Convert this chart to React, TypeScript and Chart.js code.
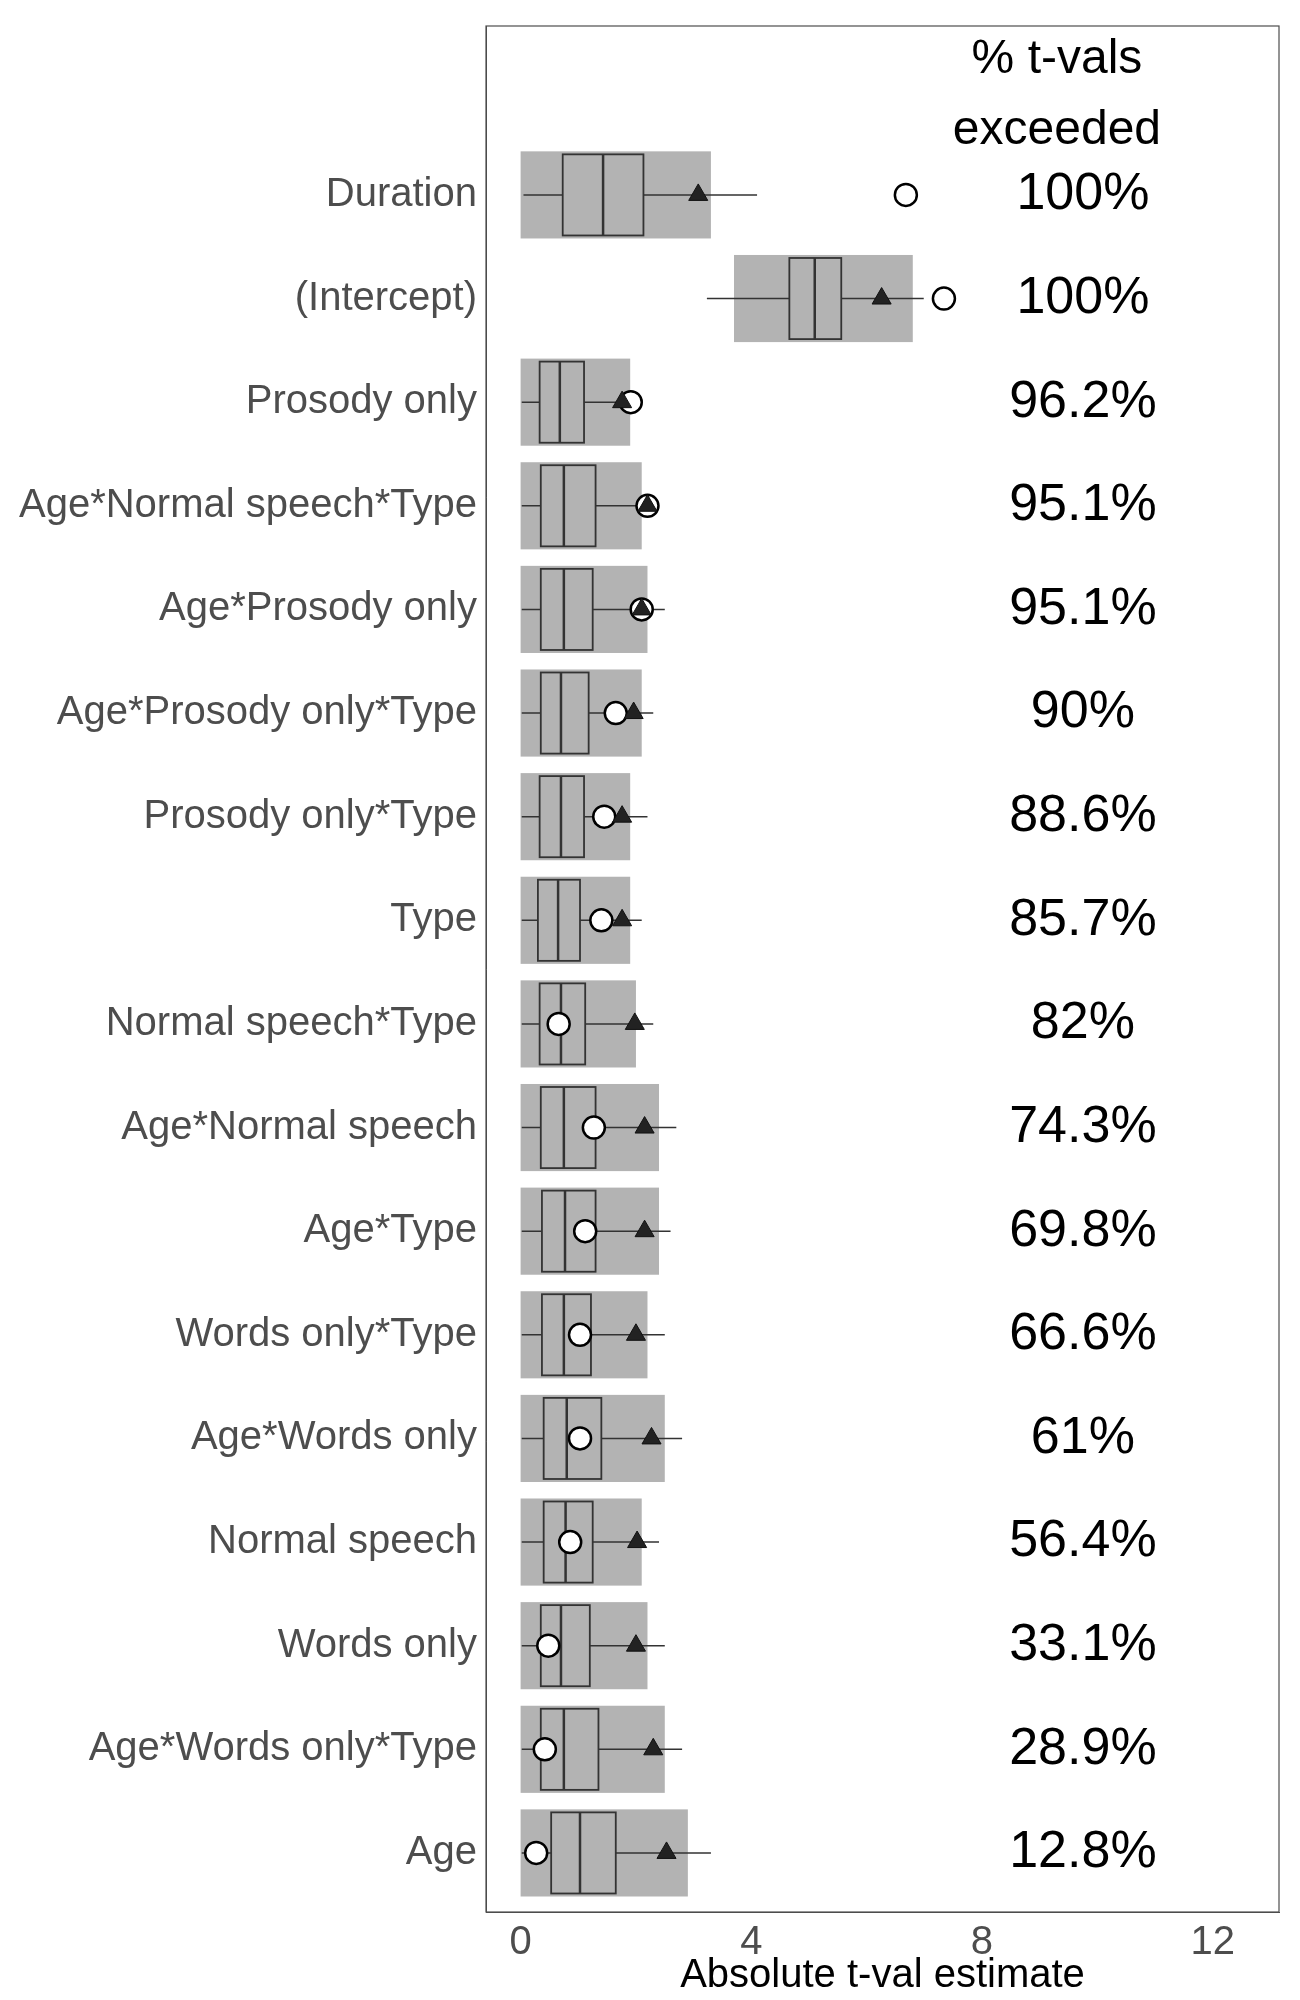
import React, { useEffect, useRef } from 'react';
import Chart from 'chart.js/auto';

// bottom to top
const terms = ['Age', 'Age*Words only*Type', 'Words only', 'Normal speech', 'Age*Words only', 'Words only*Type', 'Age*Type', 'Age*Normal speech', 'Normal speech*Type', 'Type', 'Prosody only*Type', 'Age*Prosody only*Type', 'Age*Prosody only', 'Age*Normal speech*Type', 'Prosody only', '(Intercept)', 'Duration'];
const pctExceeded = ['12.8%', '28.9%', '33.1%', '56.4%', '61%', '66.6%', '69.8%', '74.3%', '82%', '85.7%', '88.6%', '90%', '95.1%', '95.1%', '96.2%', '100%', '100%'];
const q1 = [0.53, 0.35, 0.35, 0.4, 0.4, 0.37, 0.37, 0.35, 0.33, 0.3, 0.33, 0.35, 0.35, 0.35, 0.33, 4.66, 0.73];
const median = [1.03, 0.75, 0.7, 0.78, 0.8, 0.75, 0.77, 0.75, 0.7, 0.65, 0.7, 0.7, 0.75, 0.75, 0.68, 5.1, 1.43];
const q3 = [1.65, 1.35, 1.2, 1.25, 1.4, 1.22, 1.3, 1.3, 1.12, 1.03, 1.1, 1.18, 1.25, 1.3, 1.1, 5.56, 2.13];
const whiskLo = [0.02, 0.02, 0.02, 0.02, 0.02, 0.02, 0.02, 0.02, 0.02, 0.02, 0.02, 0.02, 0.02, 0.02, 0.02, 3.23, 0.05];
const whiskHi = [3.3, 2.8, 2.5, 2.4, 2.8, 2.5, 2.6, 2.7, 2.3, 2.1, 2.2, 2.3, 2.5, 2.2, 2.0, 6.99, 4.1];
const cloudLo = [0, 0, 0, 0, 0, 0, 0, 0, 0, 0, 0, 0, 0, 0, 0, 3.7, 0];
const cloudHi = [2.9, 2.5, 2.2, 2.1, 2.5, 2.2, 2.4, 2.4, 2.0, 1.9, 1.9, 2.1, 2.2, 2.1, 1.9, 6.8, 3.3];
const meanT = [2.53, 2.3, 2.0, 2.02, 2.27, 2.0, 2.15, 2.15, 1.98, 1.76, 1.76, 1.96, 2.1, 2.2, 1.76, 6.26, 3.08];
const observedT = [0.27, 0.42, 0.48, 0.86, 1.03, 1.03, 1.12, 1.27, 0.66, 1.4, 1.45, 1.65, 2.1, 2.2, 1.91, 7.34, 6.68];
const xTicks = [0, 4, 8, 12];

const ROW_H = 104;
const FONT = '"Liberation Sans", Arial, sans-serif';

const boxPlugin = {
  id: 'boxes',
  beforeDatasetsDraw(chart: any) {
    const { ctx, scales } = chart;
    const x = scales.x, y = scales.y;
    ctx.save();
    terms.forEach((_, i) => {
      const cy = y.getPixelForValue(i);
      const hb = ROW_H * 0.39;
      ctx.fillStyle = '#b3b3b3';
      ctx.fillRect(x.getPixelForValue(cloudLo[i]), cy - hb - 3, x.getPixelForValue(cloudHi[i]) - x.getPixelForValue(cloudLo[i]), 2 * hb + 6);
      ctx.strokeStyle = '#333';
      ctx.lineWidth = 1.5;
      ctx.beginPath();
      ctx.moveTo(x.getPixelForValue(whiskLo[i]), cy);
      ctx.lineTo(x.getPixelForValue(q1[i]), cy);
      ctx.moveTo(x.getPixelForValue(q3[i]), cy);
      ctx.lineTo(x.getPixelForValue(whiskHi[i]), cy);
      ctx.stroke();
      ctx.lineWidth = 1.8;
      ctx.strokeRect(x.getPixelForValue(q1[i]), cy - hb, x.getPixelForValue(q3[i]) - x.getPixelForValue(q1[i]), 2 * hb);
      ctx.lineWidth = 2.5;
      ctx.beginPath();
      ctx.moveTo(x.getPixelForValue(median[i]), cy - hb);
      ctx.lineTo(x.getPixelForValue(median[i]), cy + hb);
      ctx.stroke();
    });
    ctx.restore();
  },
  afterDraw(chart: any) {
    const { ctx, scales, chartArea } = chart;
    const x = scales.x, y = scales.y;
    ctx.save();
    ctx.strokeStyle = '#4d4d4d';
    ctx.lineWidth = 1.2;
    ctx.strokeRect(chartArea.left, chartArea.top, chartArea.right - chartArea.left, chartArea.bottom - chartArea.top);
    ctx.fillStyle = '#000';
    ctx.textAlign = 'center';
    ctx.textBaseline = 'middle';
    ctx.font = `52px ${FONT}`;
    const tx = x.getPixelForValue(9.75);
    terms.forEach((_, i) => ctx.fillText(pctExceeded[i], tx, y.getPixelForValue(i)));
    ctx.font = `48px ${FONT}`;
    ctx.fillText('% t-vals', x.getPixelForValue(9.3), y.getPixelForValue(17.3));
    ctx.fillText('exceeded', x.getPixelForValue(9.3), y.getPixelForValue(16.62));
    ctx.restore();
  },
};

export default function App() {
  const ref = useRef<HTMLCanvasElement>(null);
  useEffect(() => {
    document.body.style.margin = '0';
    if (!ref.current) return;
    const chart = new Chart(ref.current, {
      type: 'scatter',
      data: {
        datasets: [
          {
            label: 'mean',
            data: meanT.map((v, i) => ({ x: v, y: i })),
            pointStyle: 'triangle',
            pointRadius: 11,
            backgroundColor: '#222',
            borderColor: '#111',
            borderWidth: 1,
          },
          {
            label: 'observed',
            data: observedT.map((v, i) => ({ x: v, y: i })),
            pointStyle: 'circle',
            pointRadius: 11,
            backgroundColor: '#fff',
            borderColor: '#000',
            borderWidth: 2.5,
          },
        ],
      },
      options: {
        animation: false,
        responsive: true,
        maintainAspectRatio: false,
        layout: { padding: { top: 8, right: 21, left: 0, bottom: 0 } },
        plugins: { legend: { display: false }, tooltip: { enabled: false } },
        scales: {
          x: {
            type: 'linear',
            min: -0.6,
            max: 13.15,
            afterBuildTicks: (s: any) => { s.ticks = xTicks.map((v) => ({ value: v })); },
            afterFit: (s: any) => { s.height = 88; },
            grid: { display: false, drawTicks: true, tickLength: 7, tickColor: '#333' },
            border: { color: '#4d4d4d' },
            ticks: { color: '#4d4d4d', font: { size: 40, family: FONT }, padding: 0 },
            title: { display: true, text: 'Absolute t-val estimate', color: '#000', padding: 0, font: { size: 40, family: FONT } },
          },
          y: {
            type: 'linear',
            min: -0.57,
            max: 17.63,
            afterBuildTicks: (s: any) => { s.ticks = [...terms, ''].map((_, i) => ({ value: i })); },
            afterFit: (s: any) => { s.width = 486; },
            grid: { display: false, drawTicks: true, tickLength: 7, tickColor: '#333' },
            border: { color: '#4d4d4d' },
            ticks: {
              color: '#4d4d4d',
              font: { size: 40, family: FONT },
              padding: 2,
              callback: (v: any) => terms[v] ?? '',
            },
          },
        },
      },
      plugins: [boxPlugin],
    });
    return () => chart.destroy();
  }, []);
  return (
    <div style={{ width: 1300, height: 2000, background: '#fff' }}>
      <canvas ref={ref} />
    </div>
  );
}
